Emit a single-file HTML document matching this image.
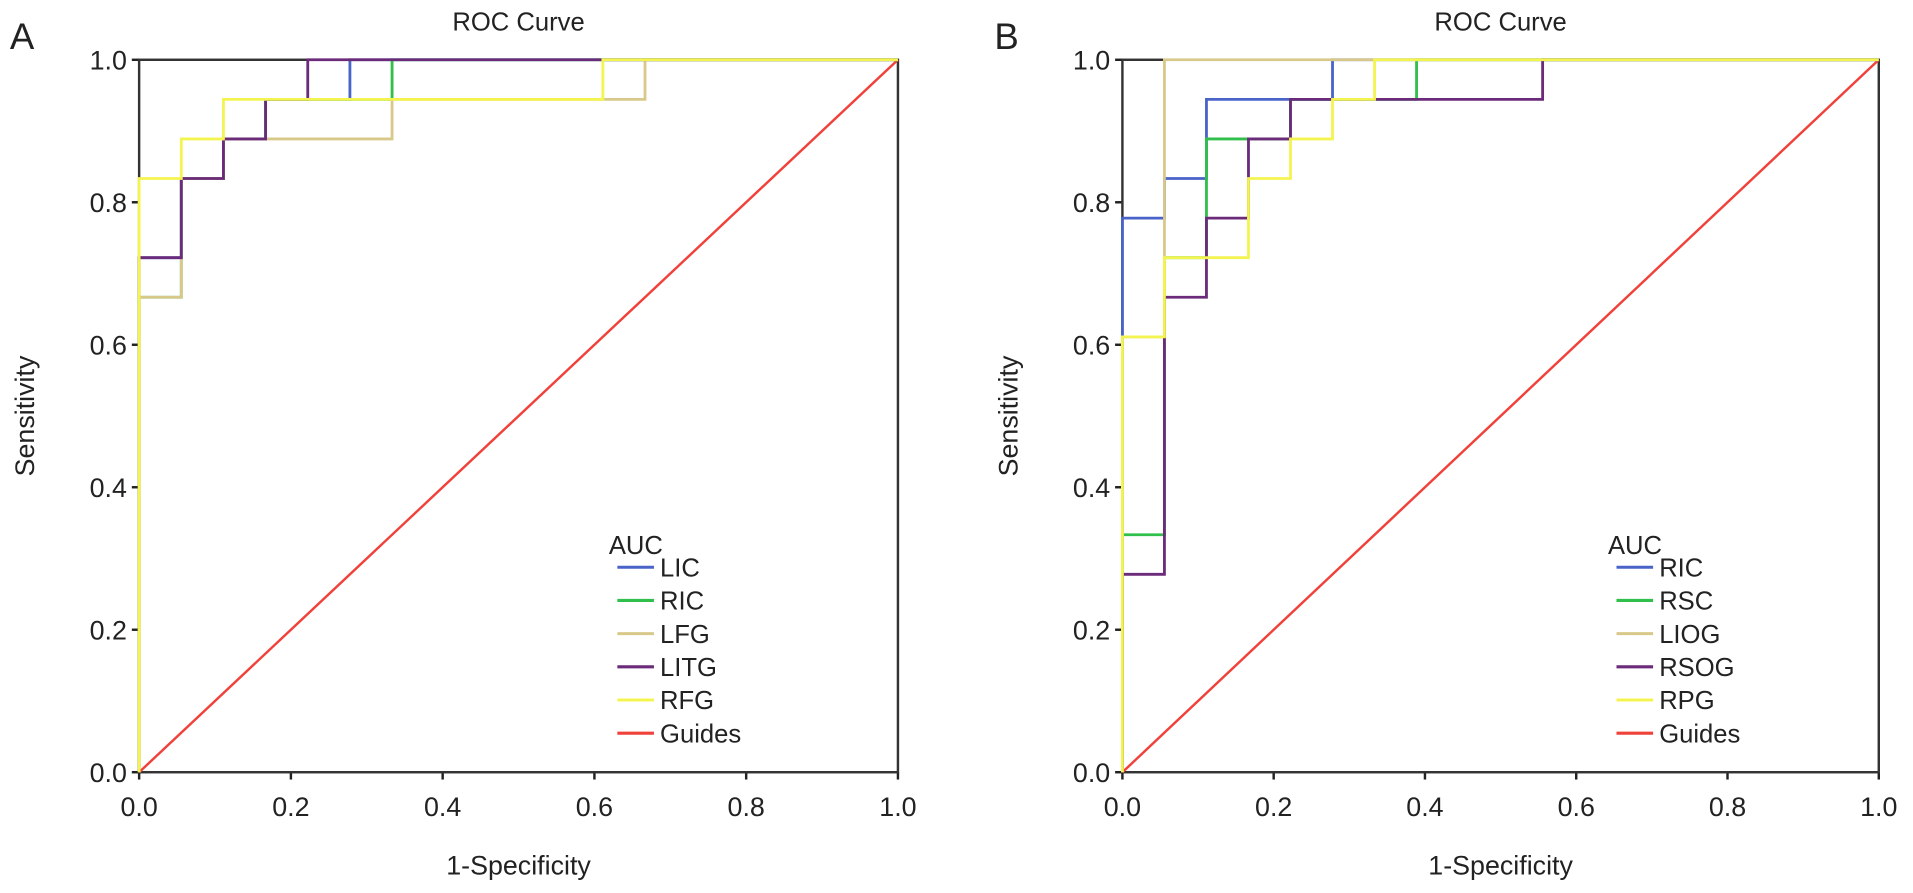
<!DOCTYPE html>
<html><head><meta charset="utf-8"><style>
body{margin:0;background:#fff;}
svg{display:block;font-family:"Liberation Sans",sans-serif;}
</style></head><body>
<svg id="c" width="1913" height="893" viewBox="0 0 1568 732"></svg>
<script>
const ticks=[0,0.2,0.4,0.6,0.8,1.0];
const tickLabels=["0.0","0.2","0.4","0.6","0.8","1.0"];
// values in units of 1/18
const aNames=["LIC","RIC","LFG","LITG","RFG"];
const aX=[[0,0,1,1,2,2,3,3,4,4,5,5,18],[0,0,1,1,2,2,3,3,6,6,18],[0,0,1,1,2,2,6,6,12,12,18],[0,0,1,1,2,2,3,3,4,4,18],[0,0,1,1,2,2,11,11,18]];
const aY=[[0,13,13,15,15,16,16,17,17,17,17,18,18],[0,12,12,15,15,16,16,17,17,18,18],[0,12,12,15,15,16,16,17,17,18,18],[0,13,13,15,15,16,16,17,17,18,18],[0,15,15,16,16,17,17,18,18]];
const bNames=["RIC","RSC","LIOG","RSOG","RPG"];
const bX=[[0,0,1,1,2,2,5,5,18],[0,0,1,1,2,2,4,4,7,7,18],[0,0,1,1,18],[0,0,1,1,2,2,3,3,4,4,10,10,18],[0,0,1,1,3,3,4,4,5,5,6,6,18]];
const bY=[[0,14,14,15,15,17,17,18,18],[0,6,6,13,13,16,16,17,17,18,18],[0,11,11,18,18],[0,5,5,12,12,14,14,16,16,17,17,18,18],[0,11,11,13,13,15,15,16,16,17,17,18,18]];
const colors=["#4a63c8","#2fbf4a","#d8c98a","#6b2a7a","#f4f450"];
const svg=document.getElementById('c');
const NS="http://www.w3.org/2000/svg";
function el(t,a,p){const e=document.createElementNS(NS,t);for(const k in a)e.setAttribute(k,a[k]);(p||svg).appendChild(e);return e;}
function panel(letter,x0,x1,names,XS,YS,lx){
  const y0=633,y1=49;
  const sx=v=>x0+v*(x1-x0), sy=v=>y0+v*(y1-y0);
  const g=el('g',{});
  
  
  let t=el('text',{x:8+(letter=='B'?807:0),y:40,'font-size':30,fill:'#222'},g);t.textContent=letter;
  
  t=el('text',{x:(x0+x1)/2,y:25,'font-size':21,'text-anchor':'middle',fill:'#222'},g);t.textContent="ROC Curve";
  
  ticks.forEach((v,i)=>{
    el('line',{x1:sx(v),x2:sx(v),y1:y0,y2:y0+6,stroke:'#222','stroke-width':2},g);
    let a=el('text',{x:sx(v),y:y0+36,'font-size':22,'text-anchor':'middle',fill:'#222'},g);a.textContent=tickLabels[i];
    
    el('line',{x1:x0-6,x2:x0,y1:sy(v),y2:sy(v),stroke:'#222','stroke-width':2},g);
    a=el('text',{x:x0-10,y:sy(v)+8,'font-size':22,'text-anchor':'end',fill:'#222'},g);a.textContent=tickLabels[i];
    
  });
  t=el('text',{x:(x0+x1)/2,y:717,'font-size':22,'text-anchor':'middle',fill:'#222'},g);t.textContent="1-Specificity";
  
  t=el('text',{x:0,y:0,'font-size':22,'text-anchor':'middle',fill:'#222',transform:`translate(${x0-86},${(y0+y1)/2}) rotate(-90)`},g);t.textContent="Sensitivity";
  
  el('rect',{x:x0,y:y1,width:x1-x0,height:y0-y1,fill:'none',stroke:'#333','stroke-width':2},g);
  let d=el('line',{x1:sx(0),y1:sy(0),x2:sx(1),y2:sy(1),stroke:'#f0413a','stroke-width':2},g);
  
  names.forEach((n,i)=>{
    const pts=XS[i].map((v,j)=>sx(v/18)+','+sy(YS[i][j]/18)).join(' ');
    const p=el('polyline',{points:pts,fill:'none',stroke:colors[i],'stroke-width':2.3},g);
    
  });
  t=el('text',{x:lx-7,y:454,'font-size':21,fill:'#222'},g);t.textContent="AUC";
  
  const all=names.concat(["Guides"]),cols=colors.concat(["#f0413a"]);
  all.forEach((n,i)=>{
    const y=465+i*27.2;
    el('line',{x1:lx,x2:lx+30,y1:y,y2:y,stroke:cols[i],'stroke-width':2.5},g);
    const a=el('text',{x:lx+35,y:y+7.5,'font-size':21,fill:'#222'},g);a.textContent=n;
    
  });
}
panel('A',114,736,aNames,aX,aY,506);
panel('B',920,1540,bNames,bX,bY,1325);
</script>
</body></html>
